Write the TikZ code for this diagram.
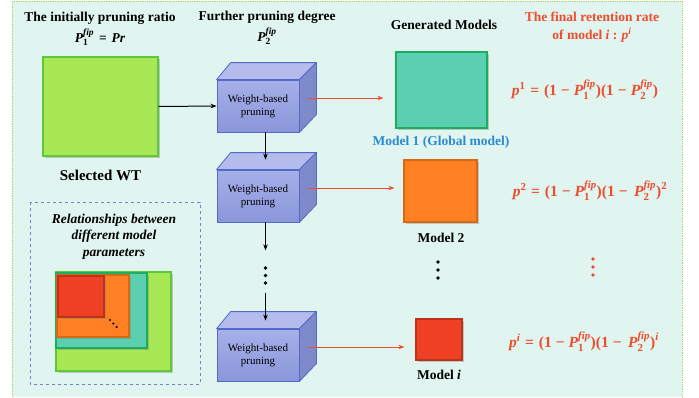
\documentclass[tikz,border=0pt]{standalone}
\usepackage{amsmath}
\usepackage{fontspec}
\setmainfont{Liberation Serif}
\usetikzlibrary{shadows,arrows.meta,calc}
\definecolor{bgc}{HTML}{E0F5EF}
\definecolor{bgedge}{HTML}{A6D86A}
\definecolor{limef}{HTML}{A8E854}
\definecolor{limed}{HTML}{5CC93A}
\definecolor{tealf}{HTML}{5CCFB0}
\definecolor{teald}{HTML}{1AAE5F}
\definecolor{orangef}{HTML}{FF8022}
\definecolor{oranged}{HTML}{D46A16}
\definecolor{redf}{HTML}{F04023}
\definecolor{redd}{HTML}{B8341A}
\definecolor{redc}{HTML}{F04B2C}
\definecolor{bluec}{HTML}{2A8AD4}
\definecolor{cubeA}{HTML}{A6B0E8}
\definecolor{cubeB}{HTML}{8A96DA}
\definecolor{cubetop}{HTML}{B3BCEB}
\definecolor{cubeside}{HTML}{7F8ACB}
\definecolor{cubeedge}{HTML}{5567C8}
\definecolor{dashc}{HTML}{6F86D6}
\newcommand\bi[1]{\textbf{\textit{#1}}}
\newcommand\bn[1]{\textbf{#1}}
\newcommand\Pf[1]{\bi{P}_{\bn{#1}}^{\bi{fip}}}
\newcommand\mn{\mathbin{\bn{−}}}
\newcommand\eqs{\mathrel{\bn{=}}}
\newcommand\hdsp{\medmuskip=5mu\relax\thickmuskip=6mu\relax}
\newcommand\fmsp{\medmuskip=5mu\relax\thickmuskip=6mu\relax}
\tikzset{
  hd/.style={font=\fontsize{13.5}{16}\selectfont\bfseries, align=center, inner sep=0},
  fm/.style={font=\fontsize{15.5}{17}\selectfont\bfseries, text=redc, inner sep=0},
  mbox/.style={draw, line width=1.2pt, inner sep=0,
    drop shadow={opacity=0.4, shadow xshift=2pt, shadow yshift=-2pt}},
  cubefront/.style={draw=cubeedge, line width=0.8pt, top color=cubeA, bottom color=cubeB,
    minimum width=82pt, minimum height=52pt, inner sep=0, align=center,
    font=\fontsize{11}{13}\selectfont},
  cubeface/.style={draw=cubeedge, line width=0.8pt, line join=round},
  blk/.style={-{Stealth[length=6pt,width=4.5pt]}, line width=1pt},
  redarr/.style={-{Stealth[length=6pt,width=4.5pt]}, line width=0.8pt, draw=redc, color=redc},
  dotb/.style={circle, fill, inner sep=0, minimum size=3.6pt},
}
\newcommand\mycube[3]{%
  \node[cubefront] (#1) at (#2,#3) {Weight-based\\pruning};
  \filldraw[cubeface, fill=cubetop] (#1.north west) -- ++(14,-17) -- ($(#1.north east)+(17,-17)$) -- (#1.north east) -- cycle;
  \filldraw[cubeface, fill=cubeside] (#1.north east) -- ++(17,-17) -- ++(0,52) -- (#1.south east) -- cycle;
}
\begin{document}
\begin{tikzpicture}[x=1pt,y=-1pt]
\useasboundingbox (0,0) rectangle (699,397);
\fill[bgc] (12,1) rectangle (682,397);
\draw[bgedge, densely dotted, line width=0.8pt] (12,397) -- (12,1) -- (682,1) -- (682,397);

% headings
\node[hd] (h1) at (100,18) {The initially pruning ratio};
\node[hd] (h1f) at (100,37) {$\hdsp\Pf{1} \eqs \bi{Pr}$};
\node[hd] (h2) at (267,17) {Further pruning degree};
\node[hd] (h2f) at (267,36) {$\Pf{2}$};
\node[hd] (h3) at (444,25) {Generated Models};
\node[hd, text=redc] (h4) at (592,17) {The final retention rate};
\node[hd, text=redc] (h4b) at (592,35) {of model \textit{i} : $\bi{p}^{\bi{i}}$};

% selected WT
\node[mbox, draw=limed, fill=limef, minimum width=115pt, minimum height=99pt] (wt) at (100.5,106.5) {};
\node[font=\fontsize{15}{17}\selectfont\bfseries] (wtl) at (100.5,175) {Selected WT};

% cubes
\mycube{c1}{258}{106}
\mycube{c2}{258}{196}
\mycube{c3}{258}{355}

% models
\node[mbox, draw=teald, fill=tealf, minimum width=91pt, minimum height=76pt] (m1) at (441.5,90) {};
\node[hd, text=bluec] (m1l) at (441,142) {Model 1 (Global model)};
\node[mbox, draw=oranged, fill=orangef, minimum width=73pt, minimum height=62pt] (m2) at (440.5,191) {};
\node[hd] (m2l) at (441,238) {Model 2};
\node[mbox, draw=redd, fill=redf, minimum width=46pt, minimum height=41pt] (mi) at (439,339.5) {};
\node[hd] (mil) at (439,375) {Model \textit{i}};

% dots
\node[dotb] (d1) at (438,262) {};
\node[dotb] (d2) at (438,270) {};
\node[dotb] (d3) at (438,278) {};
\node[dotb, fill=redc] (r1) at (593,259) {};
\node[dotb, fill=redc] (r2) at (593,267) {};
\node[dotb, fill=redc] (r3) at (593,275) {};
\node[dotb] (e1) at (265.5,268) {};
\node[dotb] (e2) at (265.5,275.5) {};
\node[dotb] (e3) at (265.5,283) {};

% formulas
\node[fm] (f1) at (585,90) {$\fmsp\bi{p}^{\bn{1}} \eqs \bn{(1} \mn \Pf{1}\bn{)(1} \mn \Pf{2}\bn{)}$};
\node[fm] (f2) at (590,191) {$\fmsp\bi{p}^{\bn{2}} \eqs \bn{(1} \mn \Pf{1}\bn{)(1} \mn\, \Pf{2}\bn{)}^{\bn{2}}$};
\node[fm] (f3) at (584,342) {$\fmsp\bi{p}^{\bi{i}} \eqs \bn{(1} \mn \Pf{1}\bn{)(1} \mn\, \Pf{2}\bn{)}^{\bi{i}}$};

% black connectors
\draw[blk] (wt.east) -- (c1.west);
\draw[blk] ($(c1.south)+(7.5,0)$) -- ($(c2.north)+(7.5,-10)$);
\coordinate (a2) at ($(c2.south)+(7.5,28)$);
\draw[blk] ($(c2.south)+(7.5,0)$) -- (a2);
\coordinate (a3) at ($(c3.north)+(7.5,-36)$);
\draw[blk] (a3) -- ($(c3.north)+(7.5,-8)$);

% red connectors
\coordinate (s1) at ($(c1.east)+(8.5,-8)$);
\coordinate (s2) at ($(c2.east)+(8.5,-8)$);
\coordinate (s3) at ($(c3.east)+(8.5,-8)$);
\draw[redarr, shorten >=12pt] (s1) -- (s1 -| m1.west);
\draw[redarr, shorten >=9pt] (s2) -- (s2 -| m2.west);
\draw[redarr, shorten >=11pt] (s3) -- (s3 -| mi.west);

% relationships box
\draw[dashc, dashed, line width=0.6pt] (30,202) rectangle (200,384);
\node[font=\fontsize{13.5}{16.5}\selectfont\bfseries\itshape, align=center] (rel) at (114,236.5) {Relationships between\\different model\\parameters};
\node[mbox, draw=limed, fill=limef, minimum width=115pt, minimum height=99pt] (n1) at (113.5,321.5) {};
\node[mbox, draw=teald, fill=tealf, minimum width=91pt, minimum height=75pt] (n2) at (101.5,310.5) {};
\node[mbox, draw=oranged, fill=orangef, minimum width=72pt, minimum height=62pt] (n3) at (93,306) {};
\node[mbox, draw=redd, fill=redf, minimum width=46pt, minimum height=41pt] (n4) at (81,296.5) {};
\node[dotb, minimum size=2.4pt] (q1) at (110,320) {};
\node[dotb, minimum size=2.4pt] (q2) at (113.3,323.5) {};
\node[dotb, minimum size=2.4pt] (q3) at (116.6,327) {};
\end{tikzpicture}
\end{document}
